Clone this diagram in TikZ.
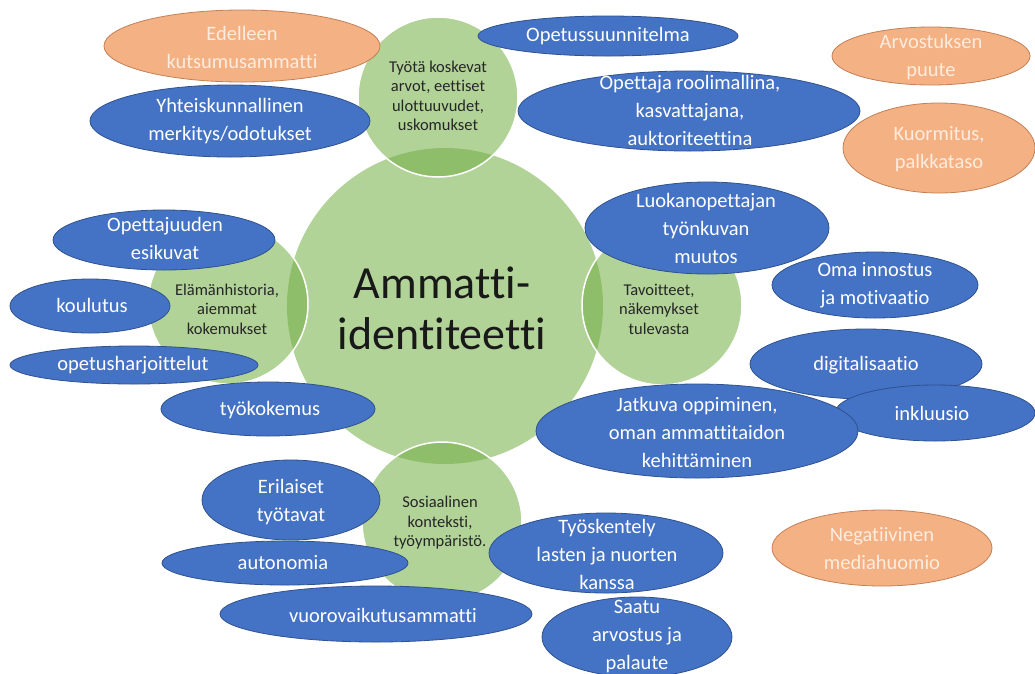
\documentclass[tikz,border=0pt]{standalone}
\usepackage{fontspec}
\setmainfont{Carlito}[Ligatures=NoCommon]
\usepackage{tikz}
\usepackage{xcolor}

\definecolor{leaf}{RGB}{178,211,152}
\definecolor{leafdark}{RGB}{143,190,106}
\definecolor{ocean}{RGB}{68,114,196}
\definecolor{oceanline}{RGB}{47,82,143}
\definecolor{peach}{RGB}{244,177,131}
\definecolor{peachline}{RGB}{196,128,86}
\definecolor{peachtext}{RGB}{253,236,224}

\tikzset{
  blueblob/.style={fill=ocean, draw=oceanline, line width=0.8pt},
  orangeblob/.style={fill=peach, draw=peachline, line width=0.8pt},
  bluetext/.style={text=white, align=center, inner sep=0pt, font=\fontsize{20.5}{28}\selectfont},
  orangetext/.style={text=peachtext, align=center, inner sep=0pt, font=\fontsize{20.5}{28}\selectfont},
  ringtext/.style={text=black!85, align=center, inner sep=0pt, font=\fontsize{16.5}{19.5}\selectfont},
}

\begin{document}
\begin{tikzpicture}[x=1pt,y=-1pt]
    \useasboundingbox (0,0) rectangle (1035,673);
    \fill[white] (0,0) rectangle (1035,673);
    % green circles
    \coordinate (core) at (445,306);
    \coordinate (ringtop) at (438,97);
    \coordinate (ringleft) at (228,304);
    \coordinate (ringright) at (662,305);
    \coordinate (ringbottom) at (442,522);
    \fill[leaf] (core) circle (158);
    \foreach \r in {ringtop,ringleft,ringright,ringbottom} {
      \fill[leaf] (\r) circle (80);
      \begin{scope}
        \clip (core) circle (158);
        \fill[leafdark] (\r) circle (80);
      \end{scope}
      \draw[white, line width=1.5pt] (\r) circle (80);
    }
    \node[text=black!90, align=center, inner sep=0pt, font=\fontsize{46}{51}\selectfont] (identity) at (442,308) {Ammatti-\\identiteetti};
    \node[ringtext] (values) at (438,96) {Työtä koskevat\\arvot, eettiset\\ulottuuvudet,\\uskomukset};
    \node[ringtext] (history) at (227,309) {Elämänhistoria,\\aiemmat\\kokemukset};
    \node[ringtext] (goals) at (659,309) {Tavoitteet,\\näkemykset\\tulevasta};
    \node[ringtext] (social) at (440,523) {Sosiaalinen\\konteksti,\\työympäristö.};

    % top
    \draw[orangeblob] (242,46) ellipse (138 and 36);
    \node[orangetext] (calling) at (242,47) {Edelleen\\kutsumusammatti};
    \draw[blueblob] (230,121) ellipse (140 and 36);
    \node[bluetext] (society) at (230,121) {Yhteiskunnallinen\\merkitys/odotukset};
    \draw[blueblob] (608,36) ellipse (130 and 20);
    \node[bluetext] (curriculum) at (608,36) {Opetussuunnitelma};
    \draw[blueblob] (689,111) ellipse (171 and 40);
    \node[bluetext] (rolemodel) at (690,110) {Opettaja roolimallina,\\kasvattajana,\\auktoriteettina};
    \draw[orangeblob] (931,56) ellipse (99 and 29);
    \node[orangetext] (esteem) at (931,57) {Arvostuksen\\puute};
    \draw[orangeblob] (939,148) ellipse (96 and 45);
    \node[orangetext] (workload) at (939,149) {Kuormitus,\\palkkataso};

    % right
    \draw[blueblob] (707,228) ellipse (122 and 46);
    \node[bluetext] (change) at (706,228) {Luokanopettajan\\työnkuvan\\muutos};
    \draw[blueblob] (875,285) ellipse (103 and 33);
    \node[bluetext] (passion) at (875,285) {Oma innostus\\ja motivaatio};
    \draw[blueblob] (866,364) ellipse (116 and 35);
    \node[bluetext] (digital) at (866,365) {digitalisaatio};
    \draw[blueblob] (935,413) ellipse (100 and 28);
    \node[bluetext] (inclusion) at (932,413) {inkluusio};
    \draw[blueblob] (697,431) ellipse (161 and 47);
    \node[bluetext] (learning) at (697,432) {Jatkuva oppiminen,\\oman ammattitaidon\\kehittäminen};
    \draw[orangeblob] (882,548) ellipse (110 and 38);
    \node[orangetext] (media) at (882,549) {Negatiivinen\\mediahuomio};

    % bottom
    \draw[blueblob] (606,553) ellipse (117 and 40);
    \node[bluetext] (children) at (607,554) {Työskentely\\lasten ja nuorten\\kanssa};
    \draw[blueblob] (637,637) ellipse (95 and 40);
    \node[bluetext] (feedback) at (637,636) {Saatu\\arvostus ja\\palaute};
    \draw[blueblob] (291,500) ellipse (89 and 40);
    \node[bluetext] (methods) at (291,502) {Erilaiset\\työtavat};
    \draw[blueblob] (285,563) ellipse (123 and 22);
    \node[bluetext] (autonomy) at (283,563) {autonomia};
    \draw[blueblob] (376,614) ellipse (156 and 28);
    \node[bluetext] (interaction) at (383,615) {vuorovaikutusammatti};

    % left
    \draw[blueblob] (164,240) ellipse (111 and 30);
    \node[bluetext] (models) at (165,238) {Opettajuuden\\esikuvat};
    \draw[blueblob] (90,306) ellipse (80 and 27);
    \node[bluetext] (education) at (92,305) {koulutus};
    \draw[blueblob] (134,365) ellipse (124 and 19);
    \node[bluetext] (practice) at (133,365) {opetusharjoittelut};
    \draw[blueblob] (268,409) ellipse (107 and 27);
    \node[bluetext] (experience) at (270,410) {työkokemus};
\end{tikzpicture}
\end{document}
